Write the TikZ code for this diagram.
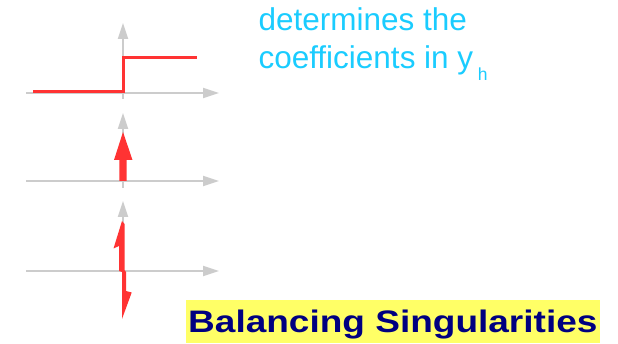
\documentclass[tikz,border=0pt]{standalone}
\usepackage{fontspec}
\setmainfont{Liberation Sans}
\usetikzlibrary{arrows.meta}
\definecolor{axisgray}{HTML}{CCCCCC}
\definecolor{sigred}{HTML}{FF3333}
\definecolor{txtcyan}{HTML}{1ACCFF}
\definecolor{titlenavy}{HTML}{000080}
\definecolor{titleyellow}{HTML}{FFFF66}
\tikzset{
  axis/.style={draw=axisgray, line width=2pt, -{Triangle[length=16pt,width=10pt]}},
  sigline/.style={draw=sigred, line width=3pt},
  sigfill/.style={fill=sigred, draw=none},
  cyantext/.style={inner sep=0pt, anchor=base west, text=txtcyan, font=\fontsize{31.5}{37}\selectfont},
}
\begin{document}
\begin{tikzpicture}[x=1pt,y=-1pt]
\useasboundingbox (0,0) rectangle (618,344);
% ---- panel 1: step ----
\coordinate (a1l) at (26,93);  \coordinate (a1r) at (219,93);
\coordinate (a1b) at (123,99); \coordinate (a1t) at (123,23);
\draw[axis] (a1l) -- (a1r);
\draw[axis] (a1b) -- (a1t);
\coordinate (s1) at (33,91.5); \coordinate (s2) at (123.5,91.5);
\coordinate (s3) at (123.5,57.7); \coordinate (s4) at (197,57.7);
\draw[sigline] (s1) -- (s2) -- (s3) -- (s4);
% ---- panel 2: impulse ----
\coordinate (a2l) at (26,181); \coordinate (a2r) at (219,181);
\coordinate (a2b) at (123,188); \coordinate (a2t) at (123,113);
\draw[axis] (a2l) -- (a2r);
\draw[axis] (a2b) -- (a2t);
\fill[sigfill] (119.3,181) -- (119.3,160) -- (114,160) -- (123,132) -- (132.5,160) -- (126.7,160) -- (126.7,181) -- cycle;
% ---- panel 3: doublet ----
\coordinate (a3l) at (26,271); \coordinate (a3r) at (219,271);
\coordinate (a3b) at (123,278); \coordinate (a3t) at (123,201);
\draw[axis] (a3l) -- (a3r);
\draw[axis] (a3b) -- (a3t);
\fill[sigfill] (122,221) -- (113.5,248.5) -- (119,246) -- (119,271) -- (122,272)
  -- (122,319) -- (131.7,292.5) -- (126,291) -- (126,272) -- (124.5,270) -- (124.5,224) -- cycle;
% ---- text ----
\node[cyantext] (t1) at (258.3,30.7) {determines the};
\node[cyantext] (t2) at (258.3,68.3) {coefficients in y\hspace{4.5pt}\raisebox{-12.5pt}{\fontsize{17.5}{20}\selectfont h}};
% ---- title ----
\fill[titleyellow] (186,300) rectangle (600,343);
\node[inner sep=0pt, anchor=base west, text=titlenavy, font=\bfseries\fontsize{31.1}{37}\selectfont] (title) at (188,333) {\scalebox{1.19}[1]{Balancing Singularities}};
\end{tikzpicture}
\end{document}
